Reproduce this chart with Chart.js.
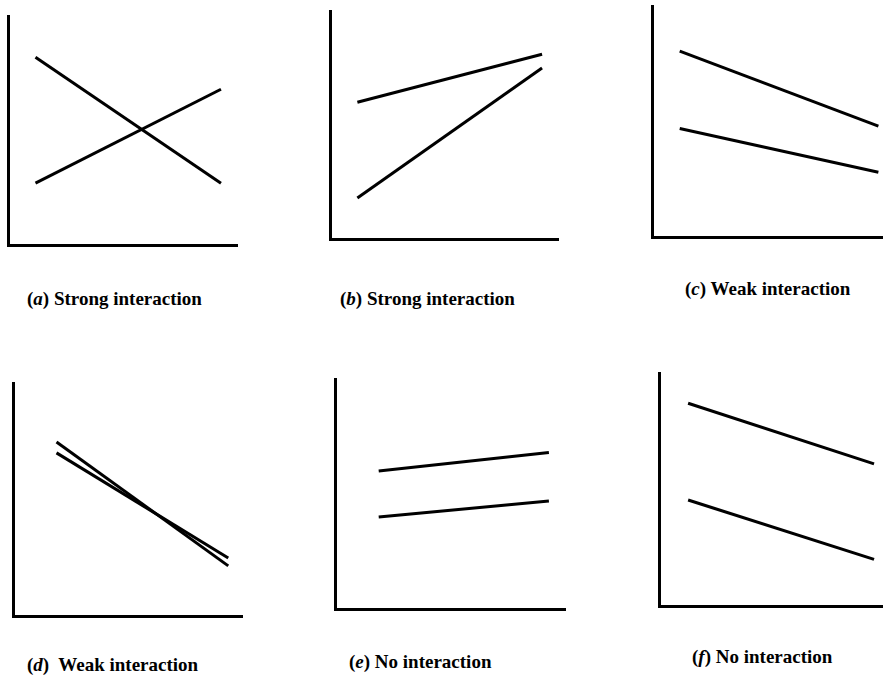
<!DOCTYPE html>
<html>
<head>
<meta charset="utf-8">
<script src="https://cdn.jsdelivr.net/npm/chart.js@4.4.1/dist/chart.umd.min.js"></script>
<style>
  html, body { margin:0; padding:0; background:#fff; width:883px; height:678px; overflow:hidden; }
  canvas { position:absolute; }
  .cap { position:absolute; font-family:"Liberation Serif","Times New Roman",serif; font-weight:bold; font-size:19px; line-height:19px; color:#000; white-space:pre; }
  .cap i { font-style:italic; }
</style>
</head>
<body>
<script>
// Panel data (x positions of the two factor levels, and the two series)
const aX = [12, 93];   const aLine1 = [82, 27];   const aLine2 = [27, 68];
const bX = [12, 93];   const bLine1 = [60, 81];   const bLine2 = [18, 75];
const cX = [12, 98];   const cLine1 = [80.5, 48]; const cLine2 = [47, 28];
const dX = [19, 94];   const dLine1 = [74.7, 21.5]; const dLine2 = [70, 24.9];
const eX = [19, 93];   const eLine1 = [60, 68];   const eLine2 = [40, 47];
const fX = [13, 96];   const fLine1 = [87, 61];   const fLine2 = [45.5, 20];

const captions = ["(|a|) Strong interaction", "(|b|) Strong interaction", "(|c|) Weak interaction",
                  "(|d|)  Weak interaction", "(|e|) No interaction", "(|f|) No interaction"];

// layout: chart area boxes and caption positions
const panels = [
  { xs: aX, s1: aLine1, s2: aLine2, box: [8, 16, 229, 229],  cap: [27, 289] },
  { xs: bX, s1: bLine1, s2: bLine2, box: [330, 11, 228, 228], cap: [340, 289] },
  { xs: cX, s1: cLine1, s2: cLine2, box: [652, 6, 231, 231],  cap: [685, 279] },
  { xs: dX, s1: dLine1, s2: dLine2, box: [13, 383, 229, 233], cap: [27, 655] },
  { xs: eX, s1: eLine1, s2: eLine2, box: [335, 379, 230, 230], cap: [349, 652] },
  { xs: fX, s1: fLine1, s2: fLine2, box: [659, 373, 224, 233], cap: [692, 647] }
];

const PAD = 6;
panels.forEach((p, k) => {
  const [l, t, w, h] = p.box;
  const cv = document.createElement('canvas');
  cv.width = w + 2 * PAD; cv.height = h + 2 * PAD;
  cv.style.left = (l - PAD) + 'px'; cv.style.top = (t - PAD) + 'px';
  cv.style.width = cv.width + 'px'; cv.style.height = cv.height + 'px';
  document.body.appendChild(cv);

  const ds = (vals) => ({
    data: p.xs.map((x, i) => ({ x: x, y: vals[i] })),
    borderColor: '#000', borderWidth: 3, pointRadius: 0, tension: 0, fill: false
  });
  const axis = {
    type: 'linear', min: 0, max: 100,
    grid: { display: false, drawTicks: false },
    ticks: { display: false },
    border: { display: true, color: '#000', width: 3 }
  };
  new Chart(cv, {
    type: 'line',
    data: { datasets: [ds(p.s1), ds(p.s2)] },
    options: {
      responsive: false, animation: false, events: [], devicePixelRatio: 1,
      layout: { padding: PAD },
      plugins: { legend: { display: false }, tooltip: { enabled: false } },
      scales: { x: Object.assign({}, axis), y: JSON.parse(JSON.stringify(axis)) }
    }
  });

  const parts = captions[k].split('|');
  const d = document.createElement('div');
  d.className = 'cap';
  d.style.left = p.cap[0] + 'px'; d.style.top = p.cap[1] + 'px';
  d.appendChild(document.createTextNode(parts[0]));
  const it = document.createElement('i'); it.textContent = parts[1]; d.appendChild(it);
  d.appendChild(document.createTextNode(parts[2]));
  document.body.appendChild(d);
});
</script>
</body>
</html>
